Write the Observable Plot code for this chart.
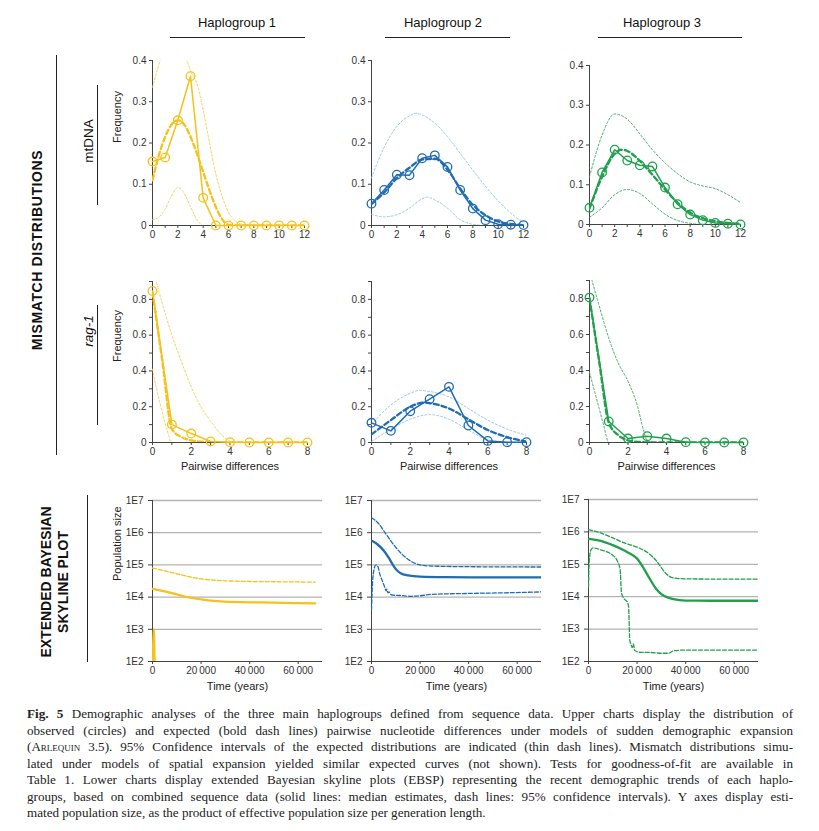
<!DOCTYPE html>
<html>
<head>
<meta charset="utf-8">
<script src="https://cdn.jsdelivr.net/npm/d3@7"></script>
<script src="https://cdn.jsdelivr.net/npm/@observablehq/plot@0.6"></script>
<style>
  html, body { margin: 0; padding: 0; background: #fff; }
  #root { position: relative; width: 819px; height: 831px; background: #fff; overflow: hidden; font-family: "Liberation Sans", Arial, sans-serif; color: #222; }
  .abs { position: absolute; white-space: nowrap; }
  .ctr { transform: translate(-50%, -50%); }
  .rot { transform: translate(-50%, -50%) rotate(-90deg); }
  .hline { position: absolute; height: 0; border-top: 1px solid #222; }
  .vline { position: absolute; width: 0; border-left: 1px solid #222; }
  .sec { font-weight: bold; font-size: 14px; color: #111; text-align: center; line-height: 17px; }
  .cap { position: absolute; left: 27px; width: 766px; font-family: "Liberation Serif", "Times New Roman", serif; font-size: 13.1px; line-height: 16.5px; color: #222; }
  .cap div { text-align: justify; text-align-last: justify; white-space: nowrap; }
  .cap div.last { text-align: left; text-align-last: left; }
  .sc { font-variant: small-caps; }
</style>
</head>
<body>
<div id="root"></div>
<script>
// ---------------- DATA ----------------
const haplogroups = ["Haplogroup 1", "Haplogroup 2", "Haplogroup 3"];
const markers = ["mtDNA", "rag-1"];

// mtDNA mismatch distributions (x = pairwise differences 0..12)
const mt1Obs = [0.155, 0.165, 0.255, 0.362, 0.067, 0, 0, 0, 0, 0, 0, 0, 0];
const mt1Exp = [[0,0.11],[0.5,0.17],[1,0.215],[1.5,0.245],[2,0.255],[2.5,0.245],[3,0.215],[3.5,0.175],[4,0.13],[4.5,0.085],[5,0.045],[5.5,0.015],[6,0.002],[7,0],[12,0]];
const mt1Hi  = [[0,0.335],[0.5,0.39],[1,0.44],[2,0.47],[2.5,0.425],[3,0.375],[3.5,0.345],[4,0.28],[4.5,0.2],[5,0.125],[5.5,0.07],[6,0.032],[6.5,0.012],[7,0.003],[8,0],[12,0]];
const mt1Lo  = [[0,0.014],[0.5,0.02],[1,0.04],[1.5,0.072],[2,0.092],[2.5,0.078],[3,0.045],[3.5,0.015],[4,0],[12,0]];

const mt2Obs = [0.053, 0.086, 0.123, 0.122, 0.163, 0.170, 0.142, 0.086, 0.041, 0.013, 0.003, 0.002, 0.001];
const mt2Exp = [[0,0.052],[1,0.08],[2,0.115],[3,0.14],[4,0.16],[5,0.162],[6,0.135],[7,0.09],[8,0.05],[9,0.025],[10,0.01],[11,0.004],[12,0.001]];
const mt2Hi  = [[0,0.115],[1,0.19],[2,0.24],[3,0.266],[3.5,0.272],[4,0.268],[5,0.248],[6,0.215],[7,0.175],[8,0.134],[9,0.095],[10,0.06],[11,0.03],[12,0.006]];
const mt2Lo  = [[0,0.027],[1,0.021],[2,0.026],[3,0.042],[4,0.065],[4.4,0.069],[5,0.062],[6,0.042],[7,0.014],[8,0.003],[9,0],[12,0]];

const mt3Obs = [0.042, 0.131, 0.188, 0.161, 0.149, 0.146, 0.093, 0.051, 0.025, 0.011, 0.004, 0.002, 0];
const mt3Exp = [[0,0.04],[1,0.12],[2,0.178],[2.5,0.188],[3,0.185],[4,0.16],[5,0.125],[6,0.088],[7,0.055],[8,0.03],[9,0.016],[10,0.008],[11,0.004],[12,0.002]];
const mt3Hi  = [[0,0.12],[1,0.225],[2,0.278],[3,0.265],[4,0.228],[5,0.188],[6,0.155],[7,0.128],[8,0.107],[9,0.097],[10,0.09],[11,0.075],[12,0.055]];
const mt3Lo  = [[0,0.018],[1,0.042],[2,0.075],[3,0.088],[4,0.078],[5,0.052],[6,0.026],[7,0.01],[8,0.003],[9,0],[12,0]];

// rag-1 mismatch distributions (x = pairwise differences 0..8)
const rg1Obs = [0.847, 0.10, 0.05, 0.006, 0.002, 0, 0, 0, 0];
const rg1Exp = [[0,0.84],[0.5,0.46],[1,0.075],[1.5,0.03],[2,0.012],[3,0.002],[4,0],[8,0]];
const rg1Hi  = [[0,0.98],[0.5,0.78],[1,0.6],[1.5,0.45],[2,0.31],[2.5,0.2],[3,0.12],[3.5,0.05],[4,0.008],[4.5,0],[8,0]];
const rg1Lo  = [[0,0.41],[0.25,0.28],[0.5,0.17],[0.75,0.07],[1,0],[8,0]];

const rg2Obs = [0.11, 0.065, 0.175, 0.242, 0.311, 0.095, 0.009, 0.002, 0.002];
const rg2Exp = [[0,0.045],[1,0.125],[2,0.2],[2.7,0.223],[3,0.22],[4,0.19],[5,0.13],[6,0.07],[7,0.03],[8,0.005]];
const rg2Hi  = [[0,0.1],[1,0.21],[2,0.275],[2.5,0.292],[3,0.285],[4,0.255],[5,0.19],[6,0.125],[7,0.075],[8,0.04]];
const rg2Lo  = [[0,0.005],[1,0.075],[2,0.13],[3,0.156],[4,0.13],[5,0.07],[6,0.015],[7,0.002],[8,0]];

const rg3Obs = [0.805, 0.117, 0.022, 0.035, 0.022, 0.002, 0, 0, 0];
const rg3Exp = [[0,0.8],[0.5,0.45],[1,0.11],[1.5,0.04],[2,0.012],[2.5,0.004],[3,0.001],[4,0],[8,0]];
const rg3Hi  = [[0,0.95],[0.5,0.76],[1,0.58],[1.5,0.44],[2,0.34],[2.5,0.2],[2.8,0.07],[3,0.01],[3.5,0],[8,0]];
const rg3Lo  = [[0,0.39],[0.25,0.29],[0.5,0.19],[0.75,0.09],[1,0],[8,0]];

// Extended Bayesian skyline plots: [time (years), population size]
const eb1Med = [[0,1.8e4],[5000,1.5e4],[10000,1.22e4],[15000,9.8e3],[20000,8.5e3],[25000,7.6e3],[30000,7.2e3],[40000,6.9e3],[50000,6.7e3],[60000,6.5e3],[67000,6.4e3]];
const eb1Hi  = [[0,8e4],[5000,6.5e4],[10000,5.3e4],[15000,4.3e4],[20000,3.7e4],[30000,3.2e4],[40000,3.05e4],[50000,3e4],[60000,2.95e4],[67000,2.9e4]];
const eb1Lo  = [[0,40],[300,1e3],[600,950],[1000,40]];

const eb2Med = [[0,5.7e5],[2500,4.3e5],[5000,2.8e5],[7000,1.7e5],[8500,1.1e5],[10000,7.4e4],[12000,5.5e4],[15000,4.7e4],[20000,4.3e4],[30000,4.15e4],[50000,4.1e4],[70000,4.1e4]];
const eb2Hi  = [[0,2.9e6],[3000,1.9e6],[6000,9e5],[10000,3.5e5],[15000,1.5e5],[20000,1e5],[25000,9.2e4],[40000,8.8e4],[70000,8.6e4]];
const eb2Lo  = [[0,4e3],[400,2.5e4],[1000,7e4],[1800,1e5],[2600,9e4],[3500,5e4],[5000,2.5e4],[5500,2e4],[6000,1.55e4],[6300,1.75e4],[6800,1.35e4],[7200,1.45e4],[8000,1.2e4],[9000,1.15e4],[12000,1.12e4],[16000,1.06e4],[20000,1.1e4],[25000,1.22e4],[40000,1.3e4],[55000,1.36e4],[70000,1.45e4]];

const eb3Med = [[0,6.1e5],[5000,5.3e5],[10000,3.9e5],[15000,2.6e5],[18000,1.95e5],[20000,1.5e5],[22000,9.3e4],[25000,3.8e4],[28000,1.7e4],[30000,1.2e4],[32500,9.5e3],[35000,8.4e3],[40000,7.6e3],[50000,7.5e3],[70000,7.5e3]];
const eb3Hi  = [[0,1.18e6],[5000,9.3e5],[10000,6.5e5],[15000,4.5e5],[20000,3.4e5],[25000,2.1e5],[28000,1.27e5],[30000,7.9e4],[32000,5.1e4],[35000,3.8e4],[40000,3.55e4],[55000,3.5e4],[70000,3.5e4]];
const eb3Lo  = [[0,2e4],[300,1.2e5],[1000,2.8e5],[2000,3.2e5],[5000,2.8e5],[10000,1.9e5],[12000,1.2e5],[13000,7e4],[13600,1.3e4],[14500,9e3],[16000,6.7e3],[16500,5e3],[17000,450],[17500,340],[18000,270],[18500,350],[19000,220],[20000,200],[22000,190],[25000,190],[30000,180],[33000,180],[35000,215],[40000,225],[55000,225],[70000,225]];

// tick labels
const mtYTicks = [0, 0.1, 0.2, 0.3, 0.4];
const rgYTicks = [0, 0.2, 0.4, 0.6, 0.8];
const rgYMinor = [0.1, 0.3, 0.5, 0.7, 0.9];
const ebYTicks = [1e2, 1e3, 1e4, 1e5, 1e6, 1e7];
const ebXTicks = [0, 20000, 40000, 60000];

// colours
const COL = {
  yellow: { main: "#F4C21A", ci: "#F6CB45" },
  blue:   { main: "#1F6CB4", ci: "#8CC4E3" },
  green:  { main: "#20A04D", ci: "#35A35A" }
};

// ---------------- LAYOUT ----------------
const root = document.getElementById("root");
const ML = 48, MR = 12, MT = 8, MB = 40;
const FONT = "'Liberation Sans', Arial, sans-serif";

function place(svg, fx0, fy0) {
  svg.style.position = "absolute";
  svg.style.left = (fx0 - ML) + "px";
  svg.style.top = (fy0 - MT) + "px";
  svg.style.overflow = "visible";
  root.appendChild(svg);
}

const fmtY = d => d === 0 ? "0" : d3.format(".1f")(d);
const X = d => d[0], Y = d => d[1];

function mismatch(p) {
  const w = p.fx1 - p.fx0, h = p.fy1 - p.fy0;
  const obsData = p.obs.map((v, i) => [i, v]);
  const c = COL[p.col];
  const marks = [];
  if (p.yMinor) marks.push(Plot.axisY({ticks: p.yMinor, tickSize: 3, tickFormat: () => "", label: null, stroke: "#444"}));
  marks.push(
    Plot.axisY({ticks: p.yTicks, tickSize: 3, tickPadding: 3, tickFormat: fmtY, label: null, stroke: "#444", fill: "#333"}),
    Plot.axisX({ticks: d3.range(0, p.xMax + 1), tickSize: 3, tickPadding: 2, tickFormat: d => d % 2 === 0 ? String(d) : "", label: null, stroke: "#444", fill: "#333"}),
    Plot.ruleX([0], {stroke: "#444", strokeWidth: 1}),
    Plot.ruleY([0], {stroke: "#444", strokeWidth: 1}),
    Plot.line(p.hi, {x: X, y: Y, stroke: c.ci, strokeWidth: 0.9, strokeDasharray: "2,2", curve: "monotone-x", clip: true}),
    Plot.line(p.lo, {x: X, y: Y, stroke: c.ci, strokeWidth: 0.9, strokeDasharray: "2,2", curve: "monotone-x", clip: true}),
    Plot.line(obsData, {x: X, y: Y, stroke: c.main, strokeWidth: 1.5}),
    Plot.line(p.exp, {x: X, y: Y, stroke: c.main, strokeWidth: 2.3, strokeDasharray: "5,3", curve: "monotone-x", clip: true}),
    Plot.dot(obsData, {x: X, y: Y, r: 4.3, stroke: c.main, strokeWidth: 1.3, fill: "none"})
  );
  if (p.yLabel) marks.push(Plot.text([p.yLabel], {frameAnchor: "left", dx: -35, rotate: -90, fontSize: 11, fill: "#222"}));
  if (p.xLabel) marks.push(Plot.text([p.xLabel], {frameAnchor: "bottom", dy: 27, fontSize: 11, fill: "#222"}));
  const svg = Plot.plot({
    width: w + ML + MR, height: h + MT + MB,
    marginLeft: ML, marginRight: MR, marginTop: MT, marginBottom: MB,
    x: {domain: [0, p.xMax]},
    y: {domain: [0, p.yMax]},
    style: {fontFamily: FONT, fontSize: "10px", color: "#333", background: "transparent"},
    marks
  });
  place(svg, p.fx0, p.fy0);
}

function ebsp(p) {
  const w = p.fx1 - p.fx0, h = p.fy1 - p.fy0;
  const c = COL[p.col];
  const marks = [
    Plot.ruleY([1e3, 1e4, 1e5, 1e6, 1e7], {stroke: "#b4b4b4", strokeWidth: 1.3}),
    Plot.axisY({ticks: ebYTicks, tickSize: 4, tickPadding: 5, tickFormat: d => "1E" + Math.round(Math.log10(d)), label: null, stroke: "#444", fill: "#333"}),
    Plot.axisX({ticks: ebXTicks, tickSize: 3, tickPadding: 2, tickFormat: d => d === 0 ? "0" : d3.format(",")(d).replace(",", "\u2009"), label: null, stroke: "#444", fill: "#333"}),
    Plot.ruleX([0], {stroke: "#444"}),
    Plot.ruleY([1e2], {stroke: "#444"}),
    Plot.line(p.hi, {x: X, y: Y, stroke: c.main, strokeWidth: 1.3, strokeDasharray: "4,2", curve: "monotone-x", clip: true}),
    Plot.line(p.lo, {x: X, y: Y, stroke: c.main, strokeWidth: p.loWidth || 1.3, strokeDasharray: p.loDash || "4,2", curve: "monotone-x", clip: true}),
    Plot.line(p.med, {x: X, y: Y, stroke: c.main, strokeWidth: 2.3, curve: "monotone-x", clip: true}),
    Plot.text(["Time (years)"], {frameAnchor: "bottom", dy: 28, fontSize: 11, fill: "#222"})
  ];
  if (p.yLabel) marks.push(Plot.text([p.yLabel], {frameAnchor: "left", dx: -35, rotate: -90, fontSize: 11, fill: "#222"}));
  const svg = Plot.plot({
    width: w + ML + MR, height: h + MT + MB,
    marginLeft: ML, marginRight: MR, marginTop: MT, marginBottom: MB,
    x: {domain: [0, 70000]},
    y: {type: "log", domain: [1e2, 1e7]},
    style: {fontFamily: FONT, fontSize: "10px", color: "#333", background: "transparent"},
    marks
  });
  place(svg, p.fx0, p.fy0);
}

// row 1: mtDNA
mismatch({fx0: 152, fx1: 304, fy0: 60, fy1: 225, xMax: 12, yMax: 0.4, yTicks: mtYTicks, obs: mt1Obs, exp: mt1Exp, hi: mt1Hi, lo: mt1Lo, col: "yellow", yLabel: "Frequency"});
mismatch({fx0: 371, fx1: 523, fy0: 60, fy1: 225, xMax: 12, yMax: 0.4, yTicks: mtYTicks, obs: mt2Obs, exp: mt2Exp, hi: mt2Hi, lo: mt2Lo, col: "blue"});
mismatch({fx0: 589, fx1: 740, fy0: 65, fy1: 224, xMax: 12, yMax: 0.4, yTicks: mtYTicks, obs: mt3Obs, exp: mt3Exp, hi: mt3Hi, lo: mt3Lo, col: "green"});
// row 2: rag-1
mismatch({fx0: 152, fx1: 307, fy0: 281, fy1: 442, xMax: 8, yMax: 0.9, yTicks: rgYTicks, yMinor: rgYMinor, obs: rg1Obs, exp: rg1Exp, hi: rg1Hi, lo: rg1Lo, col: "yellow", yLabel: "Frequency", xLabel: "Pairwise differences"});
mismatch({fx0: 371, fx1: 526, fy0: 281, fy1: 442, xMax: 8, yMax: 0.9, yTicks: rgYTicks, yMinor: rgYMinor, obs: rg2Obs, exp: rg2Exp, hi: rg2Hi, lo: rg2Lo, col: "blue", xLabel: "Pairwise differences"});
mismatch({fx0: 589, fx1: 743, fy0: 280, fy1: 442, xMax: 8, yMax: 0.9, yTicks: rgYTicks, yMinor: rgYMinor, obs: rg3Obs, exp: rg3Exp, hi: rg3Hi, lo: rg3Lo, col: "green", xLabel: "Pairwise differences"});
// row 3: EBSP
ebsp({fx0: 152, fx1: 322, fy0: 500, fy1: 661, med: eb1Med, hi: eb1Hi, lo: eb1Lo, col: "yellow", yLabel: "Population size", loWidth: 2, loDash: "none"});
ebsp({fx0: 371, fx1: 541, fy0: 500, fy1: 661, med: eb2Med, hi: eb2Hi, lo: eb2Lo, col: "blue"});
ebsp({fx0: 588, fx1: 758, fy0: 499, fy1: 661, med: eb3Med, hi: eb3Hi, lo: eb3Lo, col: "green"});

// ---------------- TEXT / DECORATION ----------------
function addText(txt, x, y, cls, style) {
  const d = document.createElement("div");
  d.className = "abs " + cls;
  d.style.left = x + "px"; d.style.top = y + "px";
  d.innerHTML = txt;
  Object.assign(d.style, style || {});
  root.appendChild(d);
}
function hline(x0, x1, y) { const d = document.createElement("div"); d.className = "hline"; d.style.left = x0 + "px"; d.style.width = (x1 - x0) + "px"; d.style.top = y + "px"; root.appendChild(d); }
function vline(x, y0, y1) { const d = document.createElement("div"); d.className = "vline"; d.style.left = x + "px"; d.style.top = y0 + "px"; d.style.height = (y1 - y0) + "px"; root.appendChild(d); }

const headerX = [237, 443, 662];
const headerLines = [[170, 305], [385, 510], [598, 742]];
haplogroups.forEach((t, i) => {
  addText(t, headerX[i], 22, "ctr", {fontSize: "13px", color: "#111"});
  hline(headerLines[i][0], headerLines[i][1], 37);
});

addText("MISMATCH DISTRIBUTIONS", 37, 250, "rot sec", {letterSpacing: "0.6px"});
vline(56, 55, 455);
addText("mtDNA", 88, 141, "rot", {fontSize: "13.5px", color: "#111"});
vline(97, 85, 205);
addText("rag-1", 88, 331, "rot", {fontSize: "13.5px", color: "#111", fontStyle: "italic"});
vline(97, 305, 425);
addText("EXTENDED BAYESIAN<br>SKYLINE PLOT", 55, 582, "rot sec");
vline(87, 495, 662);

// caption
const capLines = [
  "<b>Fig. 5</b> Demographic analyses of the three main haplogroups defined from sequence data. Upper charts display the distribution of",
  "observed (circles) and expected (bold dash lines) pairwise nucleotide differences under models of sudden demographic expansion",
  "(<span class='sc'>Arlequin</span> 3.5). 95% Confidence intervals of the expected distributions are indicated (thin dash lines). Mismatch distributions simu-",
  "lated under models of spatial expansion yielded similar expected curves (not shown). Tests for goodness-of-fit are available in",
  "Table 1. Lower charts display extended Bayesian skyline plots (EBSP) representing the recent demographic trends of each haplo-",
  "groups, based on combined sequence data (solid lines: median estimates, dash lines: 95% confidence intervals). Y axes display esti-",
  "mated population size, as the product of effective population size per generation length."
];
const cap = document.createElement("div");
cap.className = "cap";
cap.style.top = "706px";
capLines.forEach((l, i) => {
  const d = document.createElement("div");
  if (i === capLines.length - 1) d.className = "last";
  d.innerHTML = l;
  cap.appendChild(d);
});
root.appendChild(cap);
</script>
</body>
</html>
